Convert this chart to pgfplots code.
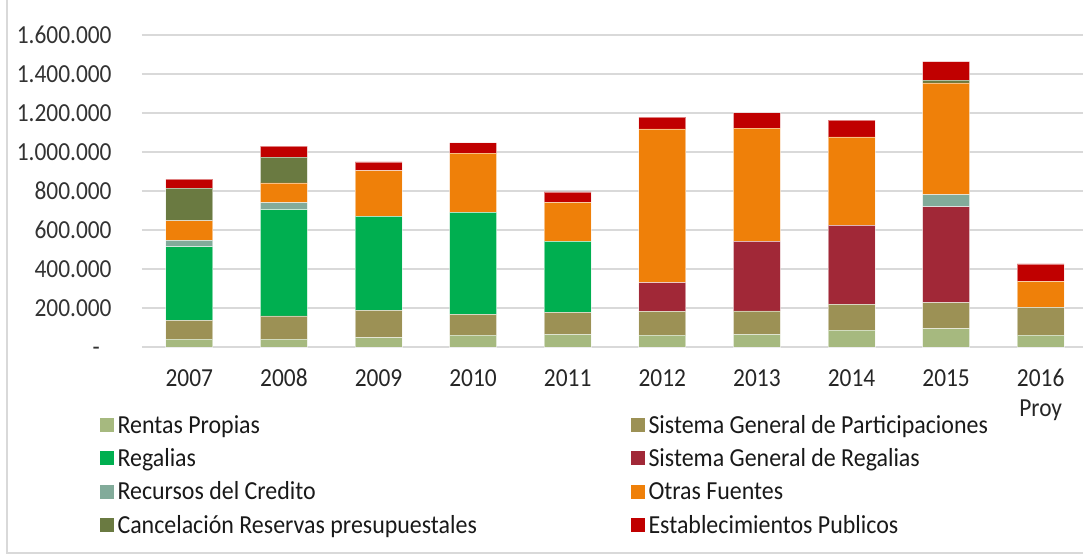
\documentclass[border=0pt]{standalone}
\usepackage{pgfplots}
\usepackage{pgfplotstable}
\pgfplotsset{compat=1.18}
\usepackage{fontspec}
\setmainfont{Carlito}[FakeStretch=0.9]
\newfontfamily\legfont{Carlito}[FakeStretch=0.92]
\definecolor{cRP}{HTML}{A6B97F}
\definecolor{cSGP}{HTML}{9C9155}
\definecolor{cREG}{HTML}{00AF50}
\definecolor{cSGR}{HTML}{A12837}
\definecolor{cCRED}{HTML}{82AB9A}
\definecolor{cOTR}{HTML}{EF8009}
\definecolor{cCAN}{HTML}{6A7A41}
\definecolor{cEST}{HTML}{C00000}
\pgfplotstableread{
x rp sgp reg sgr cred otras canc estab
0 40000 97000 377000 0 33000 100000 168000 46000
1 40000 119000 545000 0 36000 101000 133000 56000
2 48000 140000 482000 0 0 234000 0 45000
3 61000 106000 523000 0 0 304000 0 53000
4 65000 113000 364000 0 0 200000 0 53000
5 61000 122000 0 147000 0 788000 0 61000
6 65000 120000 0 357000 0 581000 0 78000
7 87000 132000 0 405000 0 453000 0 86000
8 94000 133000 0 492000 63000 572000 14000 96000
9 61000 142000 0 0 0 133000 0 90000
}\datatable
\newcommand{\lt}[1]{\makebox[258.5pt][l]{\hspace{2pt}#1}}
\newcommand{\xs}{\rule{0pt}{9pt}}
\begin{document}
\begin{tikzpicture}[x=1pt,y=1pt]
\useasboundingbox (0,0) rectangle (541.5,277.5);
\draw[black!15, line width=1pt] (3.5,290) -- (3.5,1.2) -- (560,1.2);
\begin{axis}[
  at={(71pt,104pt)}, anchor=south west,
  scale only axis, width=473pt, height=156pt,
  xmin=-0.5, xmax=9.5, ymin=0, ymax=1600000,
  enlargelimits=false, clip=false,
  ybar stacked, bar width=23.5pt,
  axis line style={draw=none},
  major tick length=0pt,
  ymajorgrids, grid style={black!15, line width=0.9pt},
  xtick={0,...,9},
  xticklabels={\xs 2007,\xs 2008,\xs 2009,\xs 2010,\xs 2011,\xs 2012,\xs 2013,\xs 2014,\xs 2015,{\xs 2016\\Proy}},
  xticklabel style={align=center, anchor=north, inner sep=0pt, yshift=-10.7pt, text=black!85, font=\fontsize{13pt}{15pt}\selectfont},
  ytick={0,200000,...,1600000},
  yticklabels={-\phantom{0},200.000,400.000,600.000,800.000,1.000.000,1.200.000,1.400.000,1.600.000},
  scaled y ticks=false,
  yticklabel style={anchor=east, inner sep=0pt, xshift=-15pt, text=black!80, font=\fontsize{13pt}{15pt}\selectfont},
  every axis plot/.append style={draw=white, draw opacity=0.5, line width=0.4pt},
  legend columns=2,
  legend image code/.code={\fill[#1, draw=none] (0pt,-3.5pt) rectangle (7pt,3.5pt);},
  legend cell align=left,
  legend style={at={(axis description cs:-0.0449,-0.2237)}, anchor=north west,
    draw=none, fill=none, inner sep=0pt, outer sep=0pt,
    row sep=8.45pt, column sep=0pt,
    font=\legfont\fontsize{13pt}{15pt}\selectfont, text=black!90,
    nodes={inner sep=0pt, text height=8.2pt, text depth=0pt}},
]
\addplot[fill=cRP] table[x=x,y=rp]{\datatable};
\addlegendentry{\lt{Rentas Propias}}
\addplot[fill=cSGP] table[x=x,y=sgp]{\datatable};
\addlegendentry{\lt{Sistema General de Participaciones}}
\addplot[fill=cREG] table[x=x,y=reg]{\datatable};
\addlegendentry{\lt{Regalias}}
\addplot[fill=cSGR] table[x=x,y=sgr]{\datatable};
\addlegendentry{\lt{Sistema General de Regalias}}
\addplot[fill=cCRED] table[x=x,y=cred]{\datatable};
\addlegendentry{\lt{Recursos del Credito}}
\addplot[fill=cOTR] table[x=x,y=otras]{\datatable};
\addlegendentry{\lt{Otras Fuentes}}
\addplot[fill=cCAN] table[x=x,y=canc]{\datatable};
\addlegendentry{\lt{Cancelación Reservas presupuestales}}
\addplot[fill=cEST] table[x=x,y=estab]{\datatable};
\addlegendentry{\lt{Establecimientos Publicos}}
\end{axis}
\end{tikzpicture}
\end{document}
